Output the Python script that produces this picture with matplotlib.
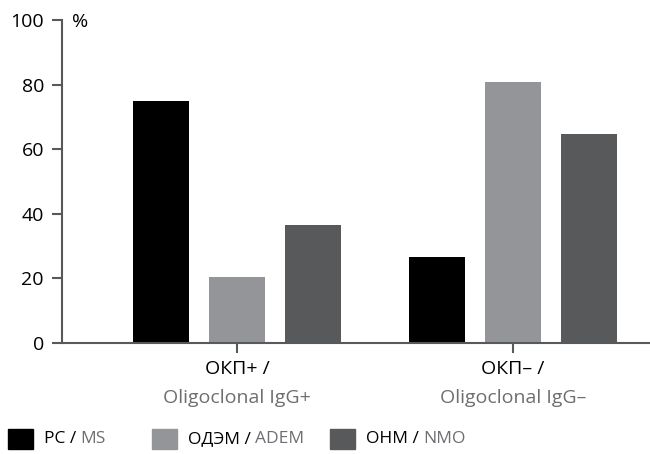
import matplotlib
matplotlib.use("Agg")
from matplotlib import pyplot as plt
from matplotlib.patches import Rectangle
import numpy as np

plt.rcParams['font.family'] = ['Open Sans', 'DejaVu Sans']

# data
groups_ru = ['ОКП+ /', 'ОКП– /']
groups_en = ['Oligoclonal IgG+', 'Oligoclonal IgG–']
series_ru = ['РС', 'ОДЭМ', 'ОНМ']
series_en = ['MS', 'ADEM', 'NMO']
ms_vals = [75, 26.7]
adem_vals = [20.3, 80.8]
nmo_vals = [36.5, 64.7]
colours = ['#000000', '#939598', '#58595b']
en_grey = '#6d6e71'
axis_grey = '#58595b'

fig = plt.figure(figsize=(6.5, 4.54), dpi=100)
ax = fig.add_axes([62/650, 1 - 343/454, 587/650, 323/454])

x = np.arange(len(groups_ru))
width = 0.203
step = 0.275
for i, vals in enumerate([ms_vals, adem_vals, nmo_vals]):
    ax.bar(x + (i - 1) * step, vals, width, color=colours[i], zorder=2)

ax.set_ylim(0, 100)
ax.set_xlim(-0.634, 1.493)
ax.set_yticks([0, 20, 40, 60, 80, 100])
ax.set_xticks(x)
ax.set_xticklabels([])
for s in ['top', 'right']:
    ax.spines[s].set_visible(False)
for s in ['left', 'bottom']:
    ax.spines[s].set_color(axis_grey)
    ax.spines[s].set_linewidth(1.5)
ax.tick_params(axis='y', length=7, width=1.5, color=axis_grey, labelsize=14, pad=6)
ax.tick_params(axis='x', length=7, width=1.5, color=axis_grey)

fig.text(72/650, 1 - 22/454, '%', fontsize=14, va='center', ha='left')

# two-line category labels: Russian black, English grey
tr = ax.get_xaxis_transform()
for xi, ru, en in zip(x, groups_ru, groups_en):
    ax.text(xi, -0.08, ru, transform=tr, ha='center', va='center', fontsize=14)
    ax.text(xi, -0.17, en, transform=tr, ha='center', va='center',
            fontsize=14, color=en_grey)

# legend drawn by hand so the two languages can have different colours
sq_x = [8, 152, 330]
for i in range(3):
    fig.patches.append(Rectangle((sq_x[i]/650, 1 - 449/454), 25/650, 20/454,
                                 transform=fig.transFigure, color=colours[i]))
    t = fig.text((sq_x[i] + 36)/650, 1 - 439/454, series_ru[i] + ' / ',
                 fontsize=12.5, va='center', ha='left')
    ax.annotate(series_en[i], xy=(1, 0), xycoords=t, va='bottom', ha='left',
                fontsize=12.5, color=en_grey, annotation_clip=False)

fig.savefig('out.png', dpi=100)
